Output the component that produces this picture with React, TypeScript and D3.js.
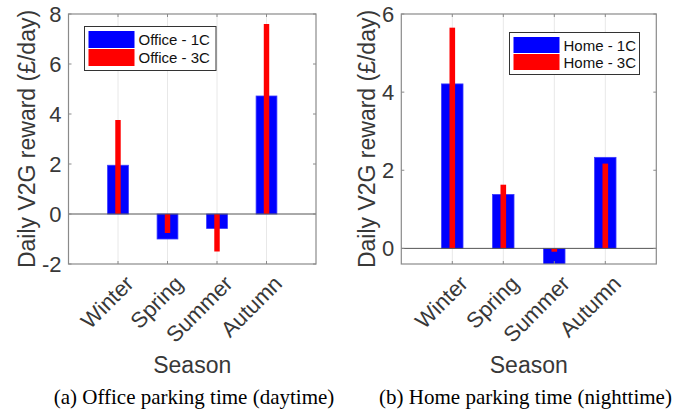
import React from "react";
import * as d3 from "d3";

const seasons = ["Winter", "Spring", "Summer", "Autumn"];
const office1C = [1.95, -1.0, -0.58, 4.72];
const office3C = [3.76, -0.76, -1.5, 7.6];
const home1C = [4.21, 1.38, -0.45, 2.33];
const home3C = [5.65, 1.63, -0.085, 2.17];
const officeTicks = [-2, 0, 2, 4, 6, 8];
const homeTicks = [0, 2, 4, 6];

const SANS = "Arial, 'Liberation Sans', Helvetica, sans-serif";
const SERIF = "'Times New Roman', 'Liberation Serif', serif";

type PanelProps = {
  x0: number;
  x1: number;
  y0: number;
  y1: number;
  yDomain: [number, number];
  ticks: number[];
  s1: number[];
  s3: number[];
  names: [string, string];
  legend: { x: number; y: number; w: number; h: number };
  caption: string;
  ylabelX: number;
  captionX: number;
};

function Panel(p: PanelProps) {
  const x = d3.scaleLinear().domain([0, 5]).range([p.x0, p.x1]);
  const y = d3.scaleLinear().domain(p.yDomain).range([p.y1, p.y0]);
  const unit = x(1) - x(0);
  const wBlue = 0.42 * unit;
  const wRed = 0.11 * unit;
  const boxColor = "#8a8a8a";
  const textColor = "#383838";
  const clipId = "clip" + Math.round(p.x0);
  const tl = 3;
  const lg = p.legend;
  const rowH = (lg.h - 8) / 2;
  return (
    <g>
      <defs>
        <clipPath id={clipId}>
          <rect x={p.x0} y={p.y0} width={p.x1 - p.x0} height={p.y1 - p.y0} />
        </clipPath>
      </defs>
      <rect x={p.x0} y={p.y0} width={p.x1 - p.x0} height={p.y1 - p.y0} fill="#fff" />
      {seasons.map((s, i) => (
        <line key={"g" + s} x1={x(i + 1)} x2={x(i + 1)} y1={p.y0} y2={p.y1} stroke="#e8e8e8" strokeWidth={1} />
      ))}
      <g clipPath={`url(#${clipId})`}>
        {p.s1.map((v, i) => (
          <rect
            key={"b" + i}
            x={x(i + 1) - wBlue / 2}
            width={wBlue}
            y={Math.min(y(v), y(0))}
            height={Math.abs(y(v) - y(0))}
            fill="#0000ff"
            stroke="#3a3aff"
            strokeWidth={0.8}
          />
        ))}
        {p.s3.map((v, i) => (
          <rect
            key={"r" + i}
            x={x(i + 1) - wRed / 2}
            width={wRed}
            y={Math.min(y(v), y(0))}
            height={Math.abs(y(v) - y(0))}
            fill="#ff0000"
          />
        ))}
      </g>
      <line x1={p.x0} x2={p.x1} y1={y(0)} y2={y(0)} stroke="#555" strokeWidth={1} />
      <rect x={p.x0} y={p.y0} width={p.x1 - p.x0} height={p.y1 - p.y0} fill="none" stroke={boxColor} strokeWidth={1.2} />
      {p.ticks.map((t) => (
        <g key={"t" + t}>
          <line x1={p.x0} x2={p.x0 + tl} y1={y(t)} y2={y(t)} stroke={boxColor} />
          <line x1={p.x1} x2={p.x1 - tl} y1={y(t)} y2={y(t)} stroke={boxColor} />
          <text
            x={p.x0 - 7}
            y={y(t)}
            textAnchor="end"
            dominantBaseline="central"
            fontFamily={SANS}
            fontSize={22}
            fill={textColor}
          >
            {t}
          </text>
        </g>
      ))}
      {seasons.map((s, i) => (
        <g key={"x" + s}>
          <line x1={x(i + 1)} x2={x(i + 1)} y1={p.y1} y2={p.y1 - tl} stroke={boxColor} />
          <line x1={x(i + 1)} x2={x(i + 1)} y1={p.y0} y2={p.y0 + tl} stroke={boxColor} />
          <text
            transform={`translate(${x(i + 1) + 17},${p.y1 + 21}) rotate(-45)`}
            textAnchor="end"
            fontFamily={SANS}
            fontSize={22}
            fill={textColor}
          >
            {s}
          </text>
        </g>
      ))}
      <text
        transform={`translate(${p.ylabelX},${(p.y0 + p.y1) / 2}) rotate(-90)`}
        textAnchor="middle"
        fontFamily={SANS}
        fontSize={23}
        fill={textColor}
      >
        Daily V2G reward (£/day)
      </text>
      <text x={(p.x0 + p.x1) / 2} y={373} textAnchor="middle" fontFamily={SANS} fontSize={23} fill={textColor}>
        Season
      </text>
      <g>
        <rect x={lg.x} y={lg.y} width={lg.w} height={lg.h} fill="#fff" stroke="#333" strokeWidth={1} />
        {[0, 1].map((k) => {
          const cy = lg.y + 4 + rowH * k + rowH / 2;
          return (
            <g key={"l" + k}>
              <rect
                x={lg.x + 4}
                y={cy - rowH / 2 + 0.5}
                width={46}
                height={rowH - 1}
                fill={k === 0 ? "#0000ff" : "#ff0000"}
              />
              <text
                x={lg.x + 54}
                y={cy}
                dominantBaseline="central"
                fontFamily={SANS}
                fontSize={15}
                fill="#111"
              >
                {p.names[k]}
              </text>
            </g>
          );
        })}
      </g>
      <text x={p.captionX} y={404} textAnchor="middle" fontFamily={SERIF} fontSize={21} fill="#000">
        {p.caption}
      </text>
    </g>
  );
}

export default function App() {
  return (
    <svg width={688} height={412} style={{ position: "absolute", left: 0, top: 0, background: "#fff" }}>
      <Panel
        x0={68.5}
        x1={316}
        y0={14}
        y1={264}
        yDomain={[-2, 8]}
        ticks={officeTicks}
        s1={office1C}
        s3={office3C}
        names={["Office - 1C", "Office - 3C"]}
        legend={{ x: 84.5, y: 26.5, w: 131.5, h: 44 }}
        caption="(a) Office parking time (daytime)"
        ylabelX={35}
        captionX={194}
      />
      <Panel
        x0={401.3}
        x1={656.3}
        y0={14}
        y1={264}
        yDomain={[-0.4, 6]}
        ticks={homeTicks}
        s1={home1C}
        s3={home3C}
        names={["Home - 1C", "Home - 3C"]}
        legend={{ x: 509.5, y: 32.5, w: 130, h: 42 }}
        caption="(b) Home parking time (nighttime)"
        ylabelX={375}
        captionX={525.5}
      />
    </svg>
  );
}
